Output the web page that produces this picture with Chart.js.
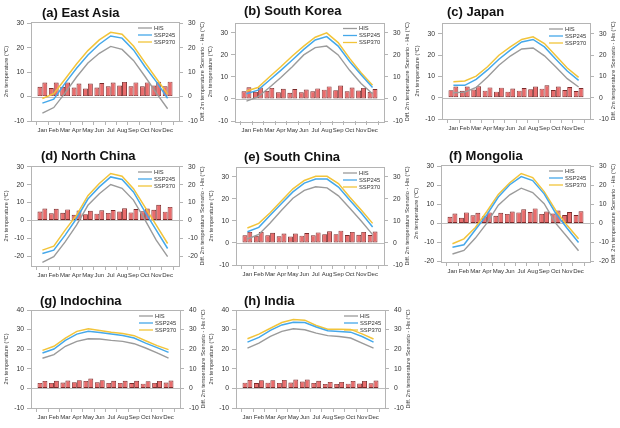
<!DOCTYPE html>
<html><head><meta charset="utf-8">
<script src="https://cdn.jsdelivr.net/npm/chart.js@4.4.1/dist/chart.umd.min.js"></script>
<style>
body{margin:0;width:620px;height:428px;background:#fff;position:relative;overflow:hidden;}
canvas{position:absolute;}
.ttl{position:absolute;font:bold 13px "Liberation Sans",Arial,sans-serif;color:#111;white-space:nowrap;line-height:16px;}
</style></head><body>
<script>
// ---------- data ----------
const months = ['Jan','Feb','Mar','Apr','May','Jun','Jul','Aug','Sep','Oct','Nov','Dec'];
const seriesNames = ['HIS','SSP245','SSP370'];

const eastAsiaHIS    = [-6.8,-4.5,1.5,8.0,13.7,17.7,20.5,19.3,14.8,8.3,1.5,-5.0];
const eastAsiaSSP245 = [-2.7,-1.1,5.5,11.6,17.0,21.4,24.8,23.9,19.1,12.3,6.1,-0.7];
const eastAsiaSSP370 = [-0.8,1.2,7.2,13.3,18.8,23.2,26.3,25.5,20.7,14.0,7.5,1.0];
const eastAsiaD245   = [4.0,3.5,4.0,3.7,3.3,3.7,4.2,4.5,4.2,4.2,4.5,4.2];
const eastAsiaD370   = [5.7,5.7,5.7,5.3,5.3,5.5,5.7,6.0,5.8,5.8,6.1,6.1];

const southKoreaHIS    = [-1.0,0.9,5.2,9.7,14.6,20.0,23.3,24.0,20.0,13.0,7.0,2.4];
const southKoreaSSP245 = [2.4,4.0,8.5,13.0,17.7,22.5,26.8,28.3,24.0,17.0,11.0,5.2];
const southKoreaSSP370 = [3.6,5.2,10.0,14.6,19.5,24.0,28.0,30.0,25.6,18.4,11.9,6.2];
const southKoreaD245   = [3.5,3.2,3.7,3.0,2.8,3.0,3.5,4.2,4.0,3.5,3.8,3.2];
const southKoreaD370   = [5.3,5.2,5.0,4.6,4.5,4.3,4.8,5.7,6.1,5.2,5.0,4.5];

const japanHIS    = [2.3,2.6,4.8,9.7,15.2,19.5,22.8,23.3,19.6,14.4,8.9,5.0];
const japanSSP245 = [5.8,5.8,8.6,13.0,18.0,22.3,26.1,27.3,23.8,18.0,12.5,8.1];
const japanSSP370 = [7.5,7.8,10.1,14.5,19.9,23.8,27.3,28.5,25.4,19.6,13.9,9.5];
const japanD245   = [3.5,3.2,3.8,3.3,2.8,2.8,3.3,4.0,4.2,3.6,3.6,3.1];
const japanD370   = [5.2,5.2,5.3,4.8,4.7,4.3,4.5,5.2,5.8,5.2,5.0,4.5];

const northChinaHIS    = [-23.5,-20.3,-12.0,-2.6,8.5,15.0,20.1,18.0,11.4,0.5,-11.0,-20.3];
const northChinaSSP245 = [-18.5,-16.6,-8.2,1.1,12.0,18.8,24.4,23.0,16.0,4.9,-5.4,-15.7];
const northChinaSSP370 = [-16.6,-14.4,-5.4,3.0,13.9,20.7,26.3,24.8,17.8,7.6,-2.6,-12.9];
const northChinaD245   = [5.0,4.0,4.3,3.2,3.5,3.8,4.2,5.0,4.5,5.1,6.0,4.9];
const northChinaD370   = [6.7,6.5,6.2,5.6,5.4,5.7,5.8,6.8,6.4,6.7,8.8,7.6];

const southChinaHIS    = [1.8,3.9,9.1,14.9,20.3,23.9,25.5,25.0,21.4,15.8,10.0,3.8];
const southChinaSSP245 = [5.1,7.1,12.6,17.9,23.2,27.2,29.0,29.0,25.4,19.4,13.6,7.3];
const southChinaSSP370 = [6.8,8.9,13.7,19.2,24.6,28.4,30.3,30.3,27.0,20.8,15.0,8.9];
const southChinaD245   = [3.5,3.2,3.5,3.0,2.9,3.3,3.5,4.0,4.0,3.6,3.7,3.6];
const southChinaD370   = [5.0,5.0,4.6,4.3,4.3,4.5,4.8,5.3,5.6,5.0,5.0,5.2];

const mongoliaHIS    = [-16.1,-14.2,-7.7,0.2,9.6,15.1,18.6,16.3,10.4,0.2,-7.0,-14.4];
const mongoliaSSP245 = [-12.5,-11.2,-3.3,4.6,13.9,20.4,24.7,22.6,15.6,5.4,-2.5,-10.0];
const mongoliaSSP370 = [-10.7,-8.1,-2.1,6.3,15.3,21.4,26.3,24.2,16.8,7.0,-1.0,-8.0];
const mongoliaD245   = [3.5,3.0,4.3,3.8,4.0,5.0,5.8,6.0,5.0,5.2,4.4,4.4];
const mongoliaD370   = [5.2,5.8,5.6,5.8,5.6,6.3,7.5,7.9,6.3,6.8,6.0,6.4];

const indochinaHIS    = [15.4,17.2,21.5,24.0,25.3,25.2,24.5,24.0,22.8,20.6,18.1,15.4];
const indochinaSSP245 = [18.1,20.1,24.5,27.7,29.2,28.5,27.7,27.0,25.7,23.1,20.8,18.4];
const indochinaSSP370 = [19.4,21.5,25.7,29.1,30.4,29.6,28.7,28.0,26.9,24.3,21.8,19.8];
const indochinaD245   = [2.8,2.8,3.0,3.2,3.8,3.1,2.8,2.8,2.7,2.4,2.8,3.0];
const indochinaD370   = [3.8,3.9,4.0,4.2,5.0,4.2,3.9,3.9,3.9,3.7,3.8,4.0];

const indiaHIS    = [20.6,23.1,26.5,29.1,30.4,29.9,28.2,26.9,26.5,25.7,23.1,20.6];
const indiaSSP245 = [23.6,26.0,29.6,32.4,33.8,33.6,31.3,29.4,29.0,28.7,26.5,23.6];
const indiaSSP370 = [25.3,27.7,30.7,33.6,35.1,34.8,32.1,30.2,30.2,30.1,27.8,25.2];
const indiaD245   = [2.9,2.7,2.9,2.8,3.0,3.5,2.8,2.3,2.3,2.4,2.5,2.6];
const indiaD370   = [4.3,4.2,4.2,4.3,4.5,4.5,3.9,3.3,3.3,3.8,3.8,4.0];

// ---------- layout (canvas box & plot area in page pixels) ----------
const panels = [
 {title:'(a) East Asia',   tx:42, ty:13, his:eastAsiaHIS,   s245:eastAsiaSSP245,   s370:eastAsiaSSP370,   d245:eastAsiaD245,   d370:eastAsiaD370,   min:-10, max:30.5, box:[0,0,205,140],   area:[31,22,179,121]},
 {title:'(b) South Korea', tx:244,ty:11, his:southKoreaHIS, s245:southKoreaSSP245, s370:southKoreaSSP370, d245:southKoreaD245, d370:southKoreaD370, min:-10, max:34.7, box:[205,0,205,140], area:[235,22.5,384,121]},
 {title:'(c) Japan',       tx:447,ty:12, his:japanHIS,      s245:japanSSP245,      s370:japanSSP370,      d245:japanD245,      d370:japanD370,      min:-10, max:35,   box:[410,0,210,140], area:[442,23,590,119]},
 {title:'(d) North China', tx:41, ty:156,his:northChinaHIS, s245:northChinaSSP245, s370:northChinaSSP370, d245:northChinaD245, d370:northChinaD370, min:-25.5,max:30.5,box:[0,140,205,140], area:[31,166,179,266]},
 {title:'(e) South China', tx:244,ty:157,his:southChinaHIS, s245:southChinaSSP245, s370:southChinaSSP370, d245:southChinaD245, d370:southChinaD370, min:-10, max:34.5, box:[205,140,205,140],area:[236,167,384,265]},
 {title:'(f) Mongolia',    tx:449,ty:156,his:mongoliaHIS,   s245:mongoliaSSP245,   s370:mongoliaSSP370,   d245:mongoliaD245,   d370:mongoliaD370,   min:-20.3,max:30.8,box:[410,140,210,140],area:[441,165,590,262]},
 {title:'(g) Indochina',   tx:40, ty:301,his:indochinaHIS,  s245:indochinaSSP245,  s370:indochinaSSP370,  d245:indochinaD245,  d370:indochinaD370,  min:-10, max:40,   box:[0,280,205,148], area:[31,310,180,408]},
 {title:'(h) India',       tx:244,ty:301,his:indiaHIS,      s245:indiaSSP245,      s370:indiaSSP370,      d245:indiaD245,      d370:indiaD370,      min:-10, max:40,   box:[205,280,205,148],area:[236,310,385,408]}
];

const C_HIS='#9b9b9b', C_245='#45a8ea', C_370='#f2c43a';
const C_BAR='#e96c6c', C_BARB='#7a2a2a', C_FRAME='#b4b4b4', C_TXT='#333';
const FONT='"Liberation Sans", Arial, sans-serif';

const deco = {
  id:'deco',
  beforeDatasetsDraw(chart){
    const {ctx, chartArea:a} = chart; const y = chart.scales.y;
    const y0 = Math.round(y.getPixelForValue(0)) + 0.5;
    ctx.save(); ctx.strokeStyle='#bdbdbd'; ctx.lineWidth=1;
    ctx.beginPath(); ctx.moveTo(a.left,y0); ctx.lineTo(a.right,y0); ctx.stroke();
    ctx.restore();
  },
  afterDatasetsDraw(chart){
    const {ctx, chartArea:a} = chart;
    ctx.save();
    ctx.strokeStyle=C_FRAME; ctx.lineWidth=1;
    ctx.strokeRect(Math.round(a.left)+0.5, Math.round(a.top)+0.5, Math.round(a.right-a.left), Math.round(a.bottom-a.top));
    const cols=[C_HIS,C_245,C_370];
    ctx.font='5.8px '+FONT; ctx.textBaseline='middle'; ctx.fillStyle=C_TXT;
    seriesNames.forEach((n,i)=>{
      const yy = a.top + 6 + i*7;
      ctx.strokeStyle=cols[i]; ctx.lineWidth=1.3;
      ctx.beginPath(); ctx.moveTo(a.right-41,yy); ctx.lineTo(a.right-27,yy); ctx.stroke();
      ctx.fillText(n, a.right-25, yy);
    });
    ctx.restore();
  },
  afterDraw(chart){
    const {ctx, chartArea:a} = chart;
    const cy=(a.top+a.bottom)/2;
    ctx.save(); ctx.fillStyle=C_TXT; ctx.font='5.6px '+FONT;
    ctx.textAlign='center'; ctx.textBaseline='middle';
    ctx.translate(a.left-25, cy); ctx.rotate(-Math.PI/2);
    ctx.fillText('2m temperature (°C)',0,0);
    ctx.restore();
    ctx.save(); ctx.fillStyle=C_TXT; ctx.font='5.6px '+FONT;
    ctx.textAlign='center'; ctx.textBaseline='middle';
    ctx.translate(a.right+23, cy); ctx.rotate(-Math.PI/2);
    ctx.fillText('Diff. 2m temperature Scenario - His (°C)',0,0);
    ctx.restore();
  }
};

function xy(arr){ return arr.map((v,i)=>({x:i,y:v})); }

panels.forEach((p,k)=>{
  const [bx,by,bw,bh]=p.box, [L,T,R,B]=p.area;
  const cv=document.createElement('canvas');
  cv.width=bw; cv.height=bh; cv.style.left=bx+'px'; cv.style.top=by+'px';
  cv.style.width=bw+'px'; cv.style.height=bh+'px';
  document.body.appendChild(cv);
  const t=document.createElement('div'); t.className='ttl'; t.textContent=p.title;
  t.style.left=p.tx+'px'; t.style.top=(p.ty-8)+'px'; document.body.appendChild(t);

  const yCommon = (pos, w, pad) => ({
    position:pos, min:p.min, max:p.max,
    ticks:{stepSize:10, includeBounds:false, color:C_TXT, padding:pad, font:{size:6.8, family:FONT}},
    grid:{drawOnChartArea:false, drawTicks:true, tickLength:4, color:C_FRAME},
    border:{display:false},
    afterFit(s){ s.width = w; }
  });
  const barDs = (label, arr) => ({type:'bar',label,data:xy(arr),backgroundColor:C_BAR,borderColor:C_BARB,
      borderWidth:0.9,borderSkipped:false,yAxisID:'y2',order:1,barPercentage:1,categoryPercentage:0.86});

  new Chart(cv,{
    type:'line',
    data:{datasets:[
      {type:'line',label:'HIS',data:xy(p.his),borderColor:C_HIS,borderWidth:1.4,pointRadius:0,yAxisID:'y',order:0},
      {type:'line',label:'SSP245',data:xy(p.s245),borderColor:C_245,borderWidth:1.5,pointRadius:0,yAxisID:'y',order:0},
      {type:'line',label:'SSP370',data:xy(p.s370),borderColor:C_370,borderWidth:1.5,pointRadius:0,yAxisID:'y',order:0},
      barDs('SSP245 - HIS', p.d245),
      barDs('SSP370 - HIS', p.d370)
    ]},
    options:{
      responsive:false, animation:false, devicePixelRatio:1,
      layout:{padding:{top:T-by,left:0,right:0,bottom:0}},
      plugins:{legend:{display:false},tooltip:{enabled:false},title:{display:false}},
      scales:{
        x:{type:'linear',min:-1,max:12,offset:false,
           afterBuildTicks(s){ s.ticks = months.map((m,i)=>({value:i})); },
           ticks:{autoSkip:false,maxRotation:0,minRotation:0,padding:2,color:C_TXT,font:{size:6,family:FONT},
                  callback:(v)=>months[v]},
           grid:{drawOnChartArea:false,drawTicks:true,tickLength:4,color:C_FRAME},
           border:{display:false},
           afterFit(s){ s.height = by+bh-B; }},
        y: yCommon('left', L-bx, 3),
        y2: yCommon('right', bx+bw-R, 5)
      }
    },
    plugins:[deco]
  });
});
</script>
</body></html>
